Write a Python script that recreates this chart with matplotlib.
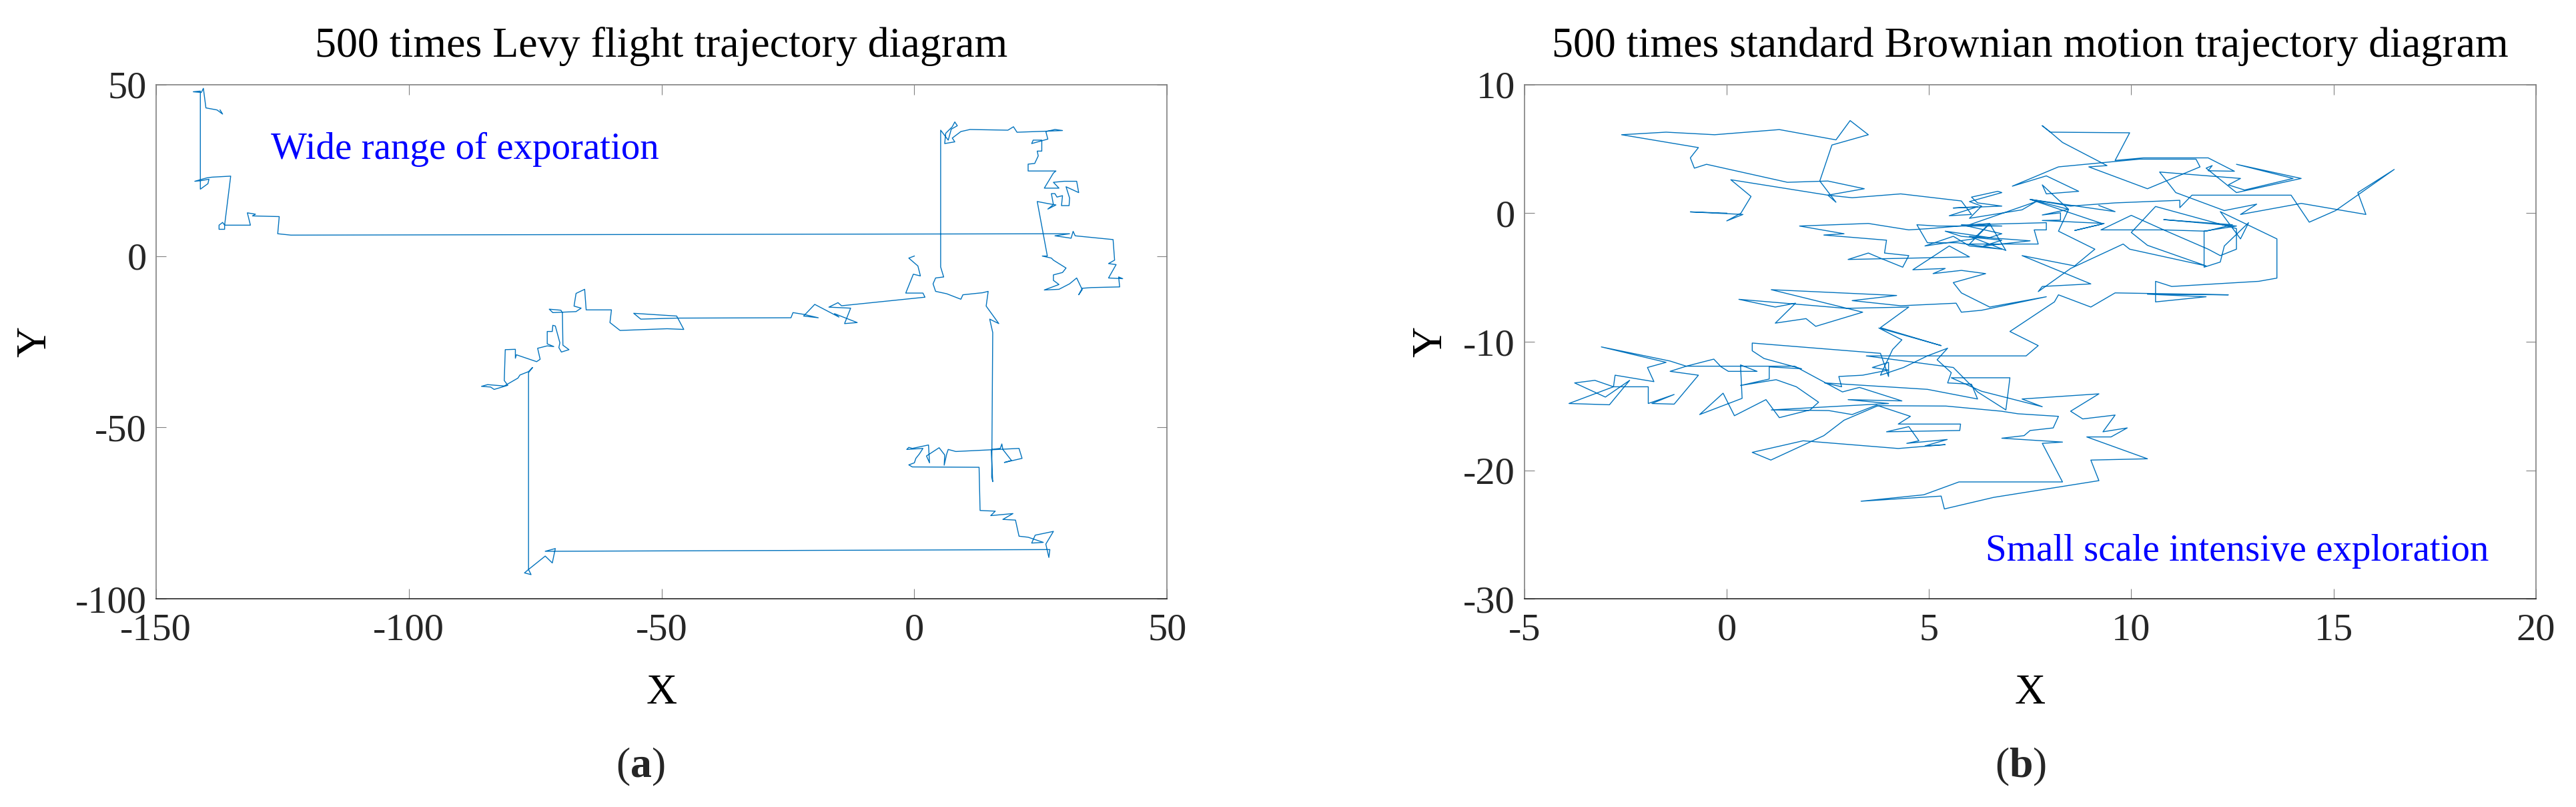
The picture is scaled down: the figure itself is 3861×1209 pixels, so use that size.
import numpy as np
import matplotlib
matplotlib.use("Agg")
import matplotlib.pyplot as plt

plt.rcParams['font.family'] = ['Liberation Serif', 'DejaVu Serif']
plt.rcParams['mathtext.fontset'] = 'custom'
plt.rcParams['mathtext.rm'] = 'Liberation Serif'
plt.rcParams['mathtext.bf'] = 'Liberation Serif:bold'
plt.rcParams['axes.unicode_minus'] = False

# Levy flight trajectory (x, y), in path order
levy_path = [
    (0.0, 0.0), (-1.1, -0.6), (0.7, -2.9), (1.2, -5.8), (-0.2, -5.3), (-1.7, -10.8),
    (1.7, -10.8), (2.1, -12.0), (-14.4, -14.5), (-15.1, -13.6), (-16.9, -14.9),
    (-12.6, -15.2), (-13.8, -19.7), (-11.3, -19.4), (-15.8, -16.8), (-14.9, -17.8),
    (-19.7, -14.1), (-21.9, -17.5), (-19.0, -18.0), (-21.9, -17.0), (-24.0, -16.5),
    (-24.4, -18.0), (-47.0, -18.1), (-54.1, -18.4), (-55.5, -16.7), (-47.0, -17.5),
    (-45.6, -21.4), (-48.9, -21.2), (-58.2, -21.7), (-60.2, -19.4), (-59.9, -15.7),
    (-64.9, -15.7), (-65.2, -9.7), (-66.9, -10.9), (-67.3, -14.6), (-65.9, -15.2),
    (-66.9, -16.2), (-71.5, -16.5), (-72.2, -15.5), (-69.9, -15.8), (-69.6, -16.5),
    (-69.5, -26.0), (-68.3, -27.3), (-69.8, -28.0), (-70.3, -26.7), (-70.1, -25.3),
    (-71.0, -20.4), (-71.5, -20.2), (-71.6, -22.0), (-72.6, -22.0), (-72.6, -25.6),
    (-71.3, -26.4), (-72.6, -26.2), (-74.5, -26.9), (-74.0, -30.1), (-74.7, -30.8),
    (-78.7, -28.8), (-78.9, -29.8), (-78.9, -27.2), (-80.9, -27.3), (-81.1, -36.3),
    (-80.4, -37.7), (-83.1, -38.9), (-83.8, -38.2), (-85.6, -38.0), (-84.4, -37.5),
    (-81.1, -37.9), (-78.4, -35.6), (-78.0, -34.7), (-76.3, -33.7), (-75.5, -32.5),
    (-76.3, -34.0), (-76.3, -91.4), (-77.1, -92.4), (-75.8, -92.9), (-76.3, -91.4),
    (-73.0, -87.5), (-71.6, -89.5), (-71.0, -85.3), (-73.0, -86.1), (26.8, -85.6),
    (26.6, -87.9), (26.0, -84.0), (27.5, -80.3), (23.9, -81.4), (23.2, -83.7),
    (25.5, -83.5), (22.5, -82.0), (20.7, -81.7), (20.0, -77.0), (17.5, -76.8),
    (19.5, -75.1), (15.1, -75.7), (16.0, -74.4), (13.0, -74.2), (12.8, -61.6),
    (-0.4, -61.5), (-1.1, -60.9), (0.0, -60.3), (0.3, -59.0), (1.0, -57.7),
    (1.7, -56.1), (-1.5, -56.4), (-1.1, -55.8), (-0.4, -56.1), (2.8, -55.1),
    (3.0, -60.3), (2.4, -58.3), (4.9, -55.9), (6.0, -58.0), (5.9, -61.0),
    (6.4, -57.7), (6.7, -56.4), (8.2, -57.0), (20.7, -56.1), (21.3, -59.0),
    (17.8, -60.2), (19.2, -59.6), (17.5, -56.4), (17.3, -54.8), (17.0, -56.1),
    (15.2, -56.4), (15.5, -65.8), (15.3, -64.5), (15.5, -22.3), (14.9, -18.4),
    (16.7, -19.7), (14.2, -14.6), (14.6, -10.3), (13.5, -10.7), (9.6, -11.3),
    (9.2, -12.6), (6.4, -11.0), (4.2, -10.3), (3.7, -8.1), (4.2, -6.4),
    (5.8, -6.1), (5.2, -3.2), (5.2, 36.7), (6.7, 33.8), (7.3, 37.0), (8.5, 38.0),
    (8.0, 39.1), (7.5, 37.7), (6.2, 35.8), (6.0, 32.8), (8.0, 33.3), (7.5, 34.4),
    (9.2, 36.3), (11.0, 36.9), (18.5, 36.7), (19.6, 37.7), (20.3, 36.1),
    (26.0, 36.4), (29.3, 36.6), (27.8, 36.9), (26.0, 36.3), (26.4, 34.1),
    (23.2, 32.8), (23.5, 33.8), (25.2, 33.8), (25.2, 30.6), (24.3, 30.6),
    (24.5, 29.2), (23.8, 27.0), (22.5, 26.8), (22.5, 24.8), (28.0, 24.8),
    (27.5, 24.2), (25.7, 19.8), (28.6, 19.8), (27.5, 21.5), (29.6, 21.8),
    (32.1, 21.8), (32.5, 18.5), (30.0, 20.2), (30.7, 16.9), (30.6, 14.7),
    (29.1, 14.7), (29.3, 17.6), (28.2, 17.2), (27.8, 18.2), (27.1, 18.2),
    (27.5, 15.0), (26.4, 13.7), (28.0, 14.9), (26.4, 15.3), (24.3, 15.9),
    (26.3, 0.0), (25.3, 0.0), (27.1, -0.6), (27.5, -1.2), (30.0, -3.5),
    (29.3, -4.8), (27.5, -5.5), (27.5, -7.1), (28.6, -8.3), (25.7, -9.9),
    (28.6, -9.7), (30.7, -8.1), (32.1, -6.4), (33.2, -9.8), (32.5, -11.3),
    (33.2, -9.4), (35.0, -9.2), (40.6, -9.0), (40.4, -6.1), (41.2, -6.6),
    (38.4, -6.4), (39.9, -2.5), (38.4, -2.2), (39.6, -1.2), (39.3, 4.8),
    (31.8, 5.9), (31.4, 7.2), (31.0, 5.2), (27.8, 5.9), (30.7, 6.5),
    (-123.3, 6.1), (-125.9, 6.5), (-125.6, 11.5), (-130.9, 11.7), (-130.3, 12.2),
    (-131.9, 12.6), (-131.3, 9.0), (-136.4, 9.0), (-136.8, 9.8), (-137.5, 9.0),
    (-137.5, 7.8), (-136.4, 7.8), (-136.4, 9.0), (-135.2, 23.3), (-138.9, 23.0),
    (-139.9, 22.8), (-142.3, 21.8), (-141.0, 22.0), (-139.5, 22.4), (-139.7, 21.1),
    (-141.2, 19.5), (-141.2, 48.1), (-142.6, 47.9), (-141.0, 47.7), (-140.6, 48.9),
    (-140.1, 43.2), (-137.9, 42.6), (-136.8, 41.4), (-137.3, 42.6),
]

# standard Brownian motion trajectory (x, y)
brown_path = [
    (0.0, 0.0), (-0.9, 0.1), (0.4, -0.1), (0.0, -0.6), (0.35, 0.0), (0.6, 1.3),
    (0.1, 2.6), (2.5, 1.4), (3.4, 1.9), (2.5, 2.5), (1.5, 2.4), (-0.5, 3.8),
    (-0.8, 3.5), (-0.9, 4.3), (-0.7, 5.1), (-2.6, 6.1), (-1.5, 6.3), (-0.3, 6.1),
    (1.3, 6.5), (2.7, 5.7), (3.05, 7.2), (3.5, 6.1), (2.6, 5.3), (2.3, 2.5),
    (2.7, 0.85), (2.5, 1.4), (3.1, 1.2), (4.3, 1.5), (5.8, 0.95), (6.05, -0.1),
    (5.5, -0.2), (6.2, 0.5), (5.6, 0.4), (6.8, 0.55), (6.2, 0.8), (6.05, 1.25),
    (6.7, 1.7), (6.8, 1.6), (6.0, 0.9), (6.3, 0.55), (6.0, -0.4), (7.3, 0.26),
    (7.65, 0.9), (6.0, -0.9), (7.9, -0.74), (7.9, -1.3), (7.6, -1.3), (7.7, -2.4),
    (6.0, -2.4), (6.5, -0.83), (6.9, -2.9), (6.0, -1.8), (7.5, -2.15), (6.35, -2.55),
    (6.8, -2.1), (5.8, -1.8), (5.4, -1.4), (6.5, -1.9), (6.8, -1.6), (5.8, -0.9),
    (6.8, -1.0), (5.2, -1.0), (4.7, -0.9), (4.96, -2.3), (5.7, -2.3), (6.8, -2.8),
    (6.0, -2.55), (5.6, -1.8), (4.9, -2.55), (6.1, -2.0), (6.5, -0.8), (5.0, -1.2),
    (4.5, -1.3), (3.5, -0.8), (1.8, -1.0), (2.9, -1.6), (2.4, -1.7), (3.95, -2.1),
    (3.9, -3.1), (4.5, -3.3), (4.35, -4.2), (3.8, -3.5), (3.5, -3.1), (3.0, -3.6),
    (6.0, -3.4), (5.5, -2.55), (4.6, -4.4), (5.4, -4.3), (5.1, -4.7), (5.8, -4.45),
    (6.4, -4.7), (5.6, -5.4), (5.8, -6.2), (6.5, -7.3), (7.9, -6.5), (6.3, -7.55),
    (5.8, -7.7), (5.67, -7.0), (4.3, -7.2), (3.1, -6.8), (4.2, -6.4), (1.1, -5.95),
    (3.36, -7.7), (2.2, -8.8), (1.96, -8.2), (1.2, -8.55), (1.7, -7.0), (1.2, -7.3),
    (0.3, -6.7), (2.94, -7.4), (4.5, -7.3), (3.8, -8.9), (5.3, -10.3), (3.76, -8.93),
    (4.33, -9.85), (4.1, -10.6), (3.8, -12.6), (4.37, -12.0), (4.96, -11.1),
    (5.46, -10.5), (5.2, -11.4), (5.55, -12.4), (5.46, -13.2), (6.05, -13.3),
    (6.2, -14.45), (4.96, -13.7), (2.42, -13.2), (2.84, -13.5), (2.77, -12.7),
    (3.36, -12.6), (4.0, -12.2), (3.6, -12.0), (4.0, -11.6), (4.0, -12.7),
    (3.8, -10.9), (0.63, -10.1), (0.63, -10.7), (0.92, -11.3), (1.85, -12.1),
    (1.05, -11.95), (1.05, -12.9), (0.34, -13.4), (1.22, -12.95), (1.72, -13.5),
    (2.27, -14.7), (2.06, -15.3), (1.3, -15.9), (0.97, -14.5), (0.19, -15.75),
    (-0.09, -14.0), (-0.67, -15.66), (0.38, -14.4), (0.34, -11.8), (0.75, -12.3),
    (0.04, -12.3), (-0.14, -11.95), (-0.32, -11.35), (-1.0, -11.9), (-1.4, -11.5),
    (-3.1, -10.4), (-1.5, -11.6), (-1.96, -12.0), (-1.8, -13.1), (-2.76, -12.6),
    (-2.8, -13.5), (-3.26, -13.0), (-3.76, -13.2), (-3.0, -14.3), (-2.4, -13.0),
    (-2.9, -14.9), (-3.9, -14.8), (-2.8, -13.5), (-1.94, -13.5), (-1.94, -14.8),
    (-1.3, -14.1), (-1.85, -14.8), (-1.3, -14.85), (-0.7, -12.6), (-1.4, -12.3),
    (-1.0, -11.9), (1.68, -11.9), (2.86, -13.9), (3.28, -13.55), (4.33, -14.6),
    (3.0, -14.5), (4.0, -14.8), (1.1, -15.3), (2.52, -15.35), (3.1, -15.66),
    (3.7, -14.93), (4.54, -15.8), (4.24, -16.4), (5.78, -16.4), (5.76, -16.9),
    (3.95, -17.0), (4.5, -16.6), (4.75, -17.7), (4.45, -17.9), (5.45, -17.6),
    (4.9, -18.1), (5.4, -18.0), (4.24, -18.3), (1.89, -17.7), (0.63, -18.6),
    (1.09, -19.2), (2.4, -17.3), (2.9, -16.1), (3.74, -14.97), (5.42, -15.0),
    (6.79, -15.4), (7.2, -15.6), (8.2, -15.8), (8.07, -16.7), (7.5, -16.9),
    (7.35, -17.3), (6.8, -17.5), (8.3, -17.8), (7.8, -17.9), (8.3, -20.9),
    (5.74, -20.9), (4.87, -21.9), (3.32, -22.4), (5.3, -22.0), (5.38, -23.0),
    (6.6, -22.1), (9.2, -20.8), (9.0, -19.2), (10.4, -19.1), (8.9, -17.4),
    (9.5, -17.4), (9.9, -16.7), (9.3, -17.0), (9.6, -15.7), (8.8, -16.0),
    (8.5, -15.4), (9.2, -14.05), (7.3, -14.45), (7.8, -15.05), (6.3, -13.85),
    (5.55, -12.8), (7.0, -12.8), (6.9, -15.3), (6.2, -13.9), (5.6, -12.0),
    (3.45, -11.1), (7.4, -11.1), (7.7, -10.3), (7.0, -9.2), (8.1, -6.9),
    (8.2, -6.35), (9.0, -7.3), (9.6, -6.2), (12.4, -6.35), (10.4, -6.3),
    (11.85, -6.5), (10.6, -6.9), (10.6, -5.3), (11.0, -5.7), (13.15, -5.3),
    (13.6, -5.05), (13.6, -2.0), (12.2, 0.12), (12.7, -2.0), (12.9, -0.74),
    (12.3, -2.55), (12.2, -3.8), (11.8, -4.2), (11.8, -1.4), (12.6, -1.0),
    (10.8, -0.5), (12.5, -0.9), (11.85, -1.4), (10.8, -1.3), (9.25, -1.3),
    (10.0, -0.17), (10.8, -1.3), (11.9, -2.8), (12.2, -3.3), (12.6, -2.8),
    (12.6, -1.2), (10.6, 0.52), (10.0, -1.5), (10.4, -2.5), (11.85, -4.1),
    (9.96, -2.8), (9.8, -2.4), (8.5, -4.3), (7.7, -6.1), (7.8, -5.7),
    (9.0, -5.5), (7.3, -3.3), (8.6, -4.1), (9.1, -2.8), (8.2, -1.4),
    (8.45, 0.3), (7.8, -0.14), (8.25, 0.03), (8.25, -0.54), (7.8, -0.57),
    (9.33, -0.8), (8.6, -1.35), (9.3, -0.83), (7.5, 1.07), (8.5, 0.55),
    (9.6, 0.8), (11.2, 1.0), (11.2, 0.43), (11.5, 1.4), (13.95, 1.4),
    (14.4, -0.7), (15.05, 0.2), (16.5, 3.4), (15.6, 1.6), (15.8, -0.1),
    (14.2, 0.76), (12.7, -0.1), (13.1, 0.7), (12.3, 0.2), (11.1, 1.6),
    (10.7, 3.2), (12.7, 2.7), (12.4, 2.2), (12.8, 1.8), (14.0, 2.7),
    (12.6, 3.8), (14.2, 2.7), (12.6, 1.6), (11.85, 3.5), (12.0, 3.7),
    (11.9, 3.3), (12.55, 3.26), (11.9, 4.3), (10.3, 4.3), (9.6, 4.1),
    (9.96, 6.25), (8.0, 6.3), (7.8, 6.8), (8.0, 6.3), (8.3, 5.5),
    (9.4, 3.7), (8.95, 3.6), (10.4, 1.9), (11.7, 3.6), (11.6, 4.2),
    (10.2, 4.2), (8.2, 3.6), (7.06, 2.1), (7.9, 2.9), (8.7, 1.7),
    (7.9, 1.5), (7.8, 2.2), (8.45, 0.3), (7.5, 1.07), (9.6, 0.12), (9.2, 0.6),
]

levy_xticks = [-150, -100, -50, 0, 50]
levy_yticks = [-100, -50, 0, 50]
brown_xticks = [-5, 0, 5, 10, 15, 20]
brown_yticks = [-30, -20, -10, 0, 10]

line_color = '#0072BD'
dark = '#262626'
grey = '#808080'


def style_axes(ax):
    ax.tick_params(direction='in', length=11, width=0.8, color=grey,
                   labelcolor=dark, labelsize=42, pad=10, top=True, right=True)
    ax.tick_params(axis='x', pad=15)
    for side in ['top', 'left', 'right']:
        ax.spines[side].set_color(grey)
        ax.spines[side].set_linewidth(1.2)
    ax.spines['bottom'].set_color(dark)
    ax.spines['bottom'].set_linewidth(1.2)


fig = plt.figure(figsize=(38.61, 12.09), dpi=100)

# (a) Levy flight
ax1 = fig.add_axes([0.0605, 0.2578, 0.3926, 0.6374])
levy = np.array(levy_path)
ax1.plot(levy[:, 0], levy[:, 1], color=line_color, linewidth=1.0)
ax1.set_xlim(-150, 50)
ax1.set_ylim(-100, 50)
ax1.set_xticks(levy_xticks)
ax1.set_yticks(levy_yticks)
style_axes(ax1)
ax1.set_title('500 times Levy flight trajectory diagram', fontsize=46, pad=30)
ax1.set_xlabel('X', fontsize=46)
ax1.set_ylabel('Y', fontsize=46)
ax1.xaxis.set_label_coords(0.5, -0.146)
ax1.yaxis.set_label_coords(-0.10, 0.5)
ax1.text(-127.2, 28.3, 'Wide range of exporation', color='blue', fontsize=41)

# (b) Brownian motion
ax2 = fig.add_axes([0.5918, 0.2578, 0.3926, 0.6374])
brown = np.array(brown_path)
ax2.plot(brown[:, 0], brown[:, 1], color=line_color, linewidth=1.0)
ax2.set_xlim(-5, 20)
ax2.set_ylim(-30, 10)
ax2.set_xticks(brown_xticks)
ax2.set_yticks(brown_yticks)
style_axes(ax2)
ax2.set_title('500 times standard Brownian motion trajectory diagram', fontsize=46, pad=30)
ax2.set_xlabel('X', fontsize=46)
ax2.set_ylabel('Y', fontsize=46)
ax2.xaxis.set_label_coords(0.5, -0.146)
ax2.yaxis.set_label_coords(-0.073, 0.5)
ax2.text(6.4, -27.0, 'Small scale intensive exploration', color='blue', fontsize=41)

fig.text(0.2487, 0.050, r'($\mathbf{a}$)', fontsize=46, ha='center', va='center', color=dark)
fig.text(0.7845, 0.050, r'($\mathbf{b}$)', fontsize=46, ha='center', va='center', color=dark)

fig.savefig('out.png', dpi=100)
